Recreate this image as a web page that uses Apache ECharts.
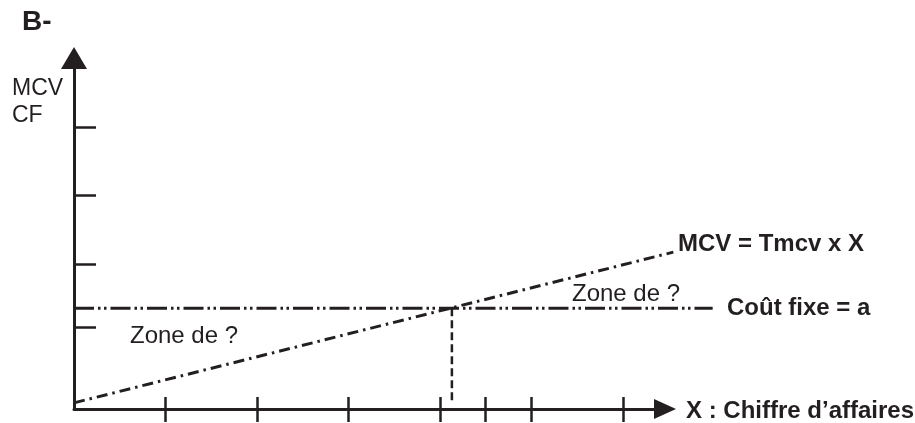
<!DOCTYPE html>
<html>
<head>
<meta charset="utf-8">
<script src="https://cdn.jsdelivr.net/npm/echarts@6/dist/echarts.min.js"></script>
<style>
  html, body { margin: 0; padding: 0; background: #fff; }
  #main { width: 915px; height: 423px; }
</style>
</head>
<body>
<div id="main"></div>
<script>
const xTicks = [1, 2, 3, 4, 4.5, 5, 6];
const yTicks = [1.2, 2.12, 3.12, 4.12];

// droite MCV = Tmcv x X
const mcvLine = [[0, 0.09], [6.55, 2.29]];
// droite du coût fixe = a
const cfLine = [[0, 1.47], [6.98, 1.47]];
// seuil de rentabilité (pointillés verticaux)
const seuilLine = [[4.13, 1.47], [4.13, 0.1]];

const ink = '#231f20';
const font = '"Liberation Sans", Arial, Helvetica, sans-serif';

let chart = echarts.init(document.getElementById('main'), null, { renderer: 'canvas' });

// texte libre du schéma
function txt(text, x, y, size, bold) {
  return {
    type: 'text',
    x: x,
    y: y,
    style: {
      text: text,
      font: (bold ? 'bold ' : '') + size + 'px ' + font,
      fill: ink,
      align: 'left',
      verticalAlign: 'middle'
    }
  };
}

// axe caché (grille des droites, qui dépassent la flèche de l'axe X)
function hiddenAxis(max, idx) {
  return {
    type: 'value', min: 0, max: max, gridIndex: idx,
    axisLine: { show: false }, axisTick: { show: false },
    axisLabel: { show: false }, splitLine: { show: false }
  };
}

let option = {
  backgroundColor: '#ffffff',
  animation: false,
  grid: [
    { left: 74, right: 250, top: 58, bottom: 14 },
    // même échelle (91.5 px par unité) mais plus large
    { left: 74, right: 200.5, top: 58, bottom: 14 }
  ],
  xAxis: [{
    type: 'value',
    gridIndex: 0,
    min: 0,
    max: 6.46,
    position: 'bottom',
    axisLine: {
      show: true,
      onZero: false,
      symbol: ['none', 'triangle'],
      symbolSize: [20, 22],
      lineStyle: { color: ink, width: 3 }
    },
    axisTick: { show: true, customValues: xTicks, length: 13, lineStyle: { color: ink, width: 2.5 } },
    axisLabel: { show: false },
    splitLine: { show: false }
  }, {
    // deuxième axe pour les graduations qui traversent l'axe
    type: 'value',
    gridIndex: 0,
    min: 0,
    max: 6.46,
    position: 'bottom',
    axisLine: { show: true, onZero: false, lineStyle: { color: ink, width: 0, opacity: 0 } },
    axisTick: { show: true, inside: true, customValues: xTicks, length: 12, lineStyle: { color: ink, width: 2.5 } },
    axisLabel: { show: false },
    splitLine: { show: false }
  }, hiddenAxis(7, 1)],
  yAxis: [{
    type: 'value',
    gridIndex: 0,
    min: 0,
    max: 5.124,
    axisLine: {
      show: true,
      onZero: false,
      symbol: ['none', 'triangle'],
      symbolSize: [26, 22],
      lineStyle: { color: ink, width: 3 }
    },
    axisTick: { show: true, inside: true, customValues: yTicks, length: 22, lineStyle: { color: ink, width: 2.5 } },
    axisLabel: { show: false },
    splitLine: { show: false }
  }, hiddenAxis(5.124, 1)],
  series: [{
    name: 'MCV',
    type: 'line',
    xAxisIndex: 2,
    yAxisIndex: 1,
    data: mcvLine,
    symbol: 'none',
    clip: false,
    lineStyle: { color: ink, width: 3, type: [11, 5, 2.5, 5] }
  }, {
    name: 'CF',
    type: 'line',
    xAxisIndex: 2,
    yAxisIndex: 1,
    data: cfLine,
    symbol: 'none',
    clip: false,
    lineStyle: { color: ink, width: 3, type: [20, 4, 2.5, 3.5, 2.5, 4] }
  }, {
    name: 'seuil',
    type: 'line',
    xAxisIndex: 2,
    yAxisIndex: 1,
    data: seuilLine,
    symbol: 'none',
    clip: false,
    lineStyle: { color: ink, width: 2.5, type: [8, 4] }
  }],
  graphic: [
    txt('B-', 22, 22, 28, true),
    txt('MCV', 12, 89, 23, false),
    txt('CF', 12, 116, 23, false),
    txt('Zone de ?', 130, 336, 24, false),
    txt('Zone de ?', 572, 294, 24, false),
    txt('MCV = Tmcv x X', 678, 244, 24, true),
    txt('Coût fixe = a', 727, 308, 24, true),
    txt('X : Chiffre d’affaires', 686, 411, 24, true)
  ]
};

chart.setOption(option);
</script>
</body>
</html>
